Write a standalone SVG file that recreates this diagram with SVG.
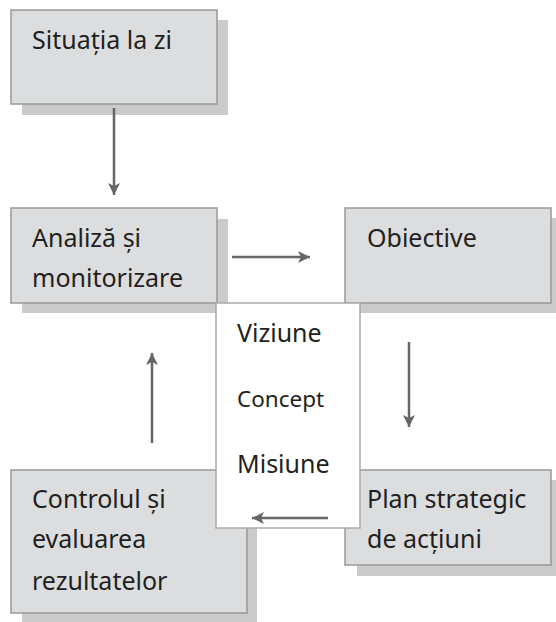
<svg xmlns="http://www.w3.org/2000/svg" width="556" height="622" viewBox="0 0 556 622">
<style>
.sh{fill:#cbcbcc;stroke:none}
.bx{fill:#dcdddf;stroke:#999999;stroke-width:1.5}
.wb{fill:#ffffff;stroke:#aaaaaa;stroke-width:1.5}
.t{font-family:"Noto Sans","Open Sans",sans-serif;font-size:25px;fill:#231f20}
.ts{font-family:"Noto Sans","Open Sans",sans-serif;font-size:22.5px;fill:#231f20}
.c{stroke:#666666;stroke-width:2.5;fill:none;marker-end:url(#ah)}
</style>
<defs>
<marker id="ah" markerUnits="userSpaceOnUse" markerWidth="14" markerHeight="14" refX="12" refY="6" orient="auto">
<path d="M0,0 L12,6 L0,12 L3,6 Z" fill="#666666"/>
</marker>
</defs>
<g id="n1">
<rect class="sh" x="22" y="20" width="206" height="95"/>
<rect class="bx" x="11" y="10" width="206" height="94"/>
<text class="t" x="32" y="49">Situația la zi</text>
</g>
<g id="n2">
<rect class="sh" x="22" y="219" width="206" height="94"/>
<rect class="bx" x="11" y="208" width="206" height="95"/>
<text class="t" x="32" y="247">Analiză și</text>
<text class="t" x="32" y="287">monitorizare</text>
</g>
<g id="n3">
<rect class="sh" x="356" y="218" width="210" height="95"/>
<rect class="bx" x="345" y="208" width="206" height="95"/>
<text class="t" x="367" y="247">Obiective</text>
</g>
<g id="n5">
<rect class="sh" x="22" y="481" width="235" height="145"/>
<rect class="bx" x="11" y="470" width="236" height="143"/>
<text class="t" x="32" y="508">Controlul și</text>
<text class="t" x="32" y="548">evaluarea</text>
<text class="t" x="32" y="590">rezultatelor</text>
</g>
<g id="n4">
<rect class="sh" x="357" y="480" width="210" height="96"/>
<rect class="bx" x="345" y="470" width="206" height="95"/>
<text class="t" x="367" y="508">Plan strategic</text>
<text class="t" x="367" y="548">de acțiuni</text>
</g>
<g id="n6">
<rect class="wb" x="216" y="303" width="144" height="225"/>
<text class="t" x="237" y="342">Viziune</text>
<text class="ts" x="237" y="407">Concept</text>
<text class="t" x="237" y="473">Misiune</text>
</g>
<g id="connectors">
<line class="c" x1="114" y1="108" x2="114" y2="195"/>
<line class="c" x1="232" y1="257" x2="310" y2="257"/>
<line class="c" x1="409" y1="342" x2="409" y2="427"/>
<line class="c" x1="328" y1="518" x2="252" y2="518"/>
<line class="c" x1="152" y1="443" x2="152" y2="353"/>
</g>
</svg>
